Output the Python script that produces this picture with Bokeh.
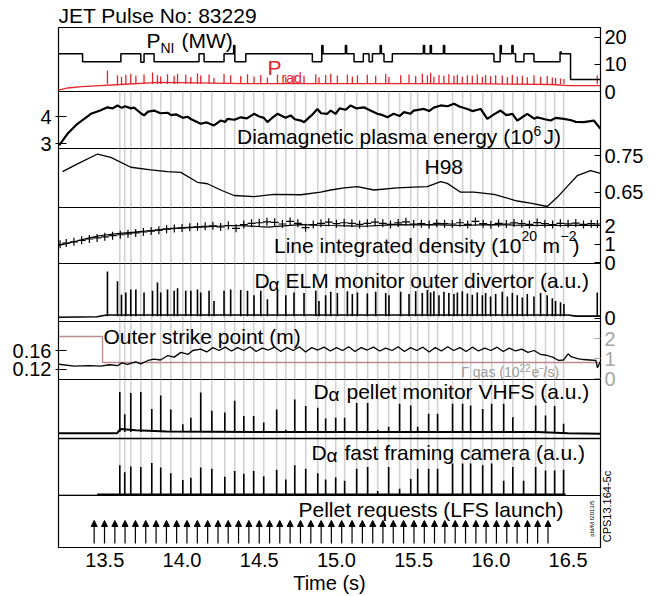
from math import pi
from bokeh.plotting import figure
from bokeh.models import (Range1d, LinearAxis, FixedTicker, Label, Arrow, NormalHead,
                          ColumnDataSource, PrintfTickFormatter, Span)
from bokeh.layouts import column
from bokeh.embed import file_html
from bokeh.resources import INLINE

# ---------------- data ----------------
# NBI power (MW), step trace
PNI_T = [13.200, 13.356, 13.604, 13.733, 13.754, 13.819, 14.110, 14.143, 14.272, 14.334,
         14.342, 14.413, 14.844, 14.905, 14.913, 15.058, 15.066, 15.114, 15.174, 15.211,
         15.233, 15.283, 15.291, 15.308, 15.362, 15.563, 15.571, 15.607, 15.615, 15.693,
         15.701, 16.020, 16.060, 16.068, 16.136, 16.144, 16.160, 16.214, 16.279, 16.448,
         16.456, 16.516, 16.710]
PNI_V = [14.0, 11.0, 14.0, 10.8, 14.0, 11.0, 14.0, 11.0, 14.0, 17.0,
         11.0, 14.0, 11.0, 17.0, 14.0, 17.0, 14.0, 11.0, 14.0, 11.0,
         14.0, 17.0, 14.0, 11.0, 14.0, 17.0, 14.0, 17.0, 14.0, 17.0,
         14.0, 11.0, 17.0, 14.0, 17.0, 14.0, 11.0, 14.0, 11.0, 14.6,
         14.0, 4.4, 4.4]
# radiated power baseline (MW)
PRAD_T = [13.20, 13.26, 13.35, 13.47, 13.60, 13.85, 14.10, 14.40, 15.00, 15.50, 16.00, 16.40, 16.50, 16.71]
PRAD_V = [0.5, 1.3, 1.8, 2.2, 2.6, 3.4, 3.2, 2.9, 2.9, 2.9, 2.8, 2.6, 2.2, 2.2]

# ELM times (s), D-alpha ELM heights (a.u.) and P_rad spike peaks (MW)
ELM_T = [13.517, 13.582, 13.608, 13.636, 13.668, 13.701, 13.754, 13.809, 13.841, 13.862,
         13.906, 13.949, 13.971, 14.024, 14.057, 14.100, 14.121, 14.175, 14.207, 14.272,
         14.315, 14.380, 14.424, 14.466, 14.510, 14.553, 14.618, 14.672, 14.725, 14.790,
         14.866, 14.887, 14.930, 14.963, 15.006, 15.071, 15.103, 15.136, 15.200, 15.254,
         15.319, 15.340, 15.416, 15.470, 15.513, 15.556, 15.589, 15.610, 15.631, 15.664,
         15.696, 15.728, 15.761, 15.783, 15.815, 15.848, 15.880, 15.912, 15.945, 15.966,
         15.998, 16.031, 16.074, 16.107, 16.139, 16.171, 16.204, 16.236, 16.279, 16.322,
         16.365, 16.398, 16.419, 16.451, 16.473, 16.689]
ELM_H = [0.81, 0.64, 0.41, 0.45, 0.50, 0.50, 0.45, 0.48, 0.62, 0.45,
         0.50, 0.48, 0.52, 0.48, 0.48, 0.50, 0.45, 0.48, 0.30, 0.48,
         0.50, 0.49, 0.48, 0.40, 0.48, 0.33, 0.48, 0.40, 0.45, 0.44,
         0.48, 0.30, 0.40, 0.46, 0.44, 0.47, 0.42, 0.45, 0.43, 0.46,
         0.44, 0.40, 0.46, 0.42, 0.47, 0.44, 0.49, 0.45, 0.47, 0.40,
         0.46, 0.44, 0.42, 0.45, 0.47, 0.43, 0.41, 0.45, 0.40, 0.44,
         0.38, 0.42, 0.46, 0.38, 0.44, 0.40, 0.36, 0.42, 0.38, 0.44,
         0.40, 0.35, 0.30, 0.28, 0.25, 0.45]
PRAD_PEAK = [7.8, 6.0, 5.5, 6.2, 6.5, 5.8, 6.3, 7.0, 6.0, 5.6,
             6.4, 5.8, 6.6, 6.2, 5.4, 6.8, 5.9, 6.3, 5.0, 6.5,
             6.0, 5.7, 6.4, 5.6, 6.1, 5.2, 6.3, 5.5, 6.0, 5.8,
             6.4, 5.3, 6.1, 6.6, 5.9, 6.3, 5.6, 6.0, 6.2, 5.8,
             6.5, 5.4, 6.0, 6.3, 5.7, 6.6, 6.0, 6.9, 5.5, 6.1,
             5.8, 6.4, 5.9, 6.2, 5.6, 6.0, 5.8, 6.3, 5.5, 6.1,
             5.7, 6.0, 5.9, 5.4, 6.2, 5.6, 5.8, 5.3, 6.0, 5.5,
             5.7, 5.2, 5.0, 4.8, 4.6, 5.9]
ELM_BASE_T = [13.20, 13.45, 13.51, 16.50, 16.55, 16.71]
ELM_BASE_V = [0.02, 0.03, 0.06, 0.06, 0.04, 0.04]

# diamagnetic energy (MJ)
W_T = [13.204, 13.258, 13.323, 13.41, 13.47, 13.517, 13.55, 13.582, 13.61, 13.63,
       13.67, 13.69, 13.733, 13.754, 13.78, 13.819, 13.86, 13.906, 13.93, 13.96,
       14.005, 14.035, 14.06, 14.121, 14.16, 14.207, 14.25, 14.28, 14.294, 14.34,
       14.380, 14.42, 14.466, 14.50, 14.53, 14.553, 14.59, 14.618, 14.67, 14.704,
       14.73, 14.77, 14.790, 14.84, 14.877, 14.90, 14.941, 14.963, 14.995, 15.02,
       15.06, 15.092, 15.13, 15.178, 15.22, 15.265, 15.30, 15.33, 15.37, 15.41,
       15.437, 15.48, 15.50, 15.567, 15.60, 15.63, 15.675, 15.72, 15.761, 15.80,
       15.848, 15.88, 15.934, 15.977, 16.02, 16.063, 16.10, 16.14, 16.171, 16.21,
       16.236, 16.28, 16.301, 16.35, 16.387, 16.42, 16.473, 16.52, 16.55, 16.602,
       16.667, 16.71]
W_V = [2.93, 3.36, 3.73, 4.10, 4.22, 4.34, 4.30, 4.41, 4.32, 4.38,
       4.30, 4.33, 4.12, 4.04, 4.18, 4.22, 4.12, 4.14, 4.05, 4.08,
       3.95, 3.99, 3.90, 3.73, 3.78, 3.67, 3.85, 3.80, 3.91, 3.88,
       3.97, 3.93, 4.10, 4.00, 3.95, 3.79, 3.98, 4.10, 3.95, 4.04,
       3.90, 3.85, 3.79, 4.05, 4.28, 4.12, 4.10, 4.22, 4.10, 4.30,
       4.25, 4.41, 4.30, 4.34, 4.22, 4.10, 4.05, 3.97, 4.10, 4.02,
       4.16, 4.10, 4.22, 4.28, 4.20, 4.33, 4.41, 4.38, 4.47, 4.36,
       4.28, 4.20, 4.28, 3.91, 4.08, 4.22, 4.05, 4.10, 3.85, 4.00,
       4.10, 3.92, 3.97, 3.90, 3.85, 3.95, 3.91, 3.86, 3.80, 3.79,
       3.85, 3.54]

# H98
H_T = [13.226, 13.323, 13.453, 13.539, 13.668, 13.798, 13.906, 13.992, 14.100, 14.165,
       14.25, 14.337, 14.466, 14.596, 14.769, 14.898, 14.963, 15.05, 15.136, 15.243,
       15.394, 15.50, 15.588, 15.675, 15.718, 15.804, 15.890, 16.020, 16.171, 16.257,
       16.365, 16.430, 16.50, 16.559, 16.646, 16.71]
H_V = [0.706, 0.727, 0.754, 0.745, 0.718, 0.711, 0.706, 0.704, 0.677, 0.673,
       0.656, 0.641, 0.638, 0.644, 0.643, 0.650, 0.656, 0.662, 0.665, 0.656,
       0.662, 0.664, 0.665, 0.679, 0.674, 0.650, 0.650, 0.644, 0.626, 0.620,
       0.611, 0.636, 0.668, 0.695, 0.709, 0.701]

# line integrated density (1e20 m^-2): line and crosses
D_T = [13.204, 13.30, 13.40, 13.474, 13.58, 13.69, 13.80, 13.906, 14.01, 14.121,
       14.23, 14.337, 14.45, 14.553, 14.66, 14.769, 14.87, 14.963, 15.07, 15.178,
       15.29, 15.394, 15.50, 15.61, 15.72, 15.825, 15.93, 16.041, 16.15, 16.257,
       16.36, 16.473, 16.59, 16.71]
D_V = [0.92, 1.12, 1.33, 1.46, 1.56, 1.64, 1.73, 1.82, 1.87, 1.91,
       1.96, 2.00, 1.97, 1.91, 1.98, 2.05, 2.02, 2.00, 1.98, 1.96,
       2.01, 2.05, 2.03, 2.05, 2.02, 2.00, 2.03, 2.05, 2.02, 2.00,
       2.01, 2.00, 2.02, 2.00]
DX_T = [13.21, 13.25, 13.30, 13.35, 13.40, 13.45, 13.50, 13.55, 13.60, 13.65,
        13.70, 13.75, 13.80, 13.85, 13.90, 13.95, 14.00, 14.05, 14.10, 14.15,
        14.20, 14.25, 14.30, 14.35, 14.40, 14.45, 14.50, 14.55, 14.60, 14.65,
        14.70, 14.75, 14.80, 14.85, 14.90, 14.95, 15.00, 15.05, 15.10, 15.15,
        15.20, 15.25, 15.30, 15.35, 15.40, 15.45, 15.50, 15.55, 15.60, 15.65,
        15.70, 15.75, 15.80, 15.85, 15.90, 15.95, 16.00, 16.05, 16.10, 16.15,
        16.20, 16.25, 16.30, 16.35, 16.40, 16.45, 16.50, 16.55, 16.60, 16.65,
        16.69]
DX_V = [0.98, 1.05, 1.12, 1.20, 1.27, 1.33, 1.39, 1.45, 1.50, 1.55,
        1.60, 1.65, 1.70, 1.75, 1.80, 1.84, 1.87, 1.90, 1.93, 1.96,
        1.98, 1.92, 2.00, 1.85, 2.05, 2.12, 2.15, 2.20, 2.17, 2.08,
        2.22, 2.12, 1.88, 2.05, 2.12, 2.18, 2.10, 2.15, 2.12, 2.06,
        2.12, 2.18, 2.12, 2.06, 2.14, 2.20, 2.08, 2.10, 2.05, 2.12,
        2.10, 2.08, 2.15, 2.06, 2.22, 2.10, 2.04, 2.12, 2.08, 2.14,
        2.10, 2.06, 2.16, 2.10, 2.05, 2.12, 2.09, 2.13, 2.06, 2.10,
        2.08]

# outer strike point (m)
S_T = [13.204, 13.30, 13.40, 13.474, 13.53, 13.582, 13.61, 13.647, 13.70, 13.733,
       13.78, 13.819, 13.86, 13.906, 13.95, 13.992, 14.04, 14.07, 14.121, 14.16,
       14.20, 14.24, 14.28, 14.32, 14.36, 14.40, 14.44, 14.48, 14.52, 14.56,
       14.60, 14.64, 14.68, 14.72, 14.76, 14.80, 14.84, 14.88, 14.92, 14.96,
       15.00, 15.04, 15.08, 15.12, 15.16, 15.20, 15.24, 15.28, 15.32, 15.36,
       15.40, 15.44, 15.48, 15.52, 15.56, 15.60, 15.64, 15.68, 15.72, 15.76,
       15.80, 15.84, 15.88, 15.92, 15.96, 16.00, 16.04, 16.08, 16.12, 16.16,
       16.20, 16.24, 16.28, 16.32, 16.36, 16.40, 16.44, 16.47, 16.50, 16.52,
       16.56, 16.60, 16.64, 16.68, 16.69, 16.71]
S_V = [0.131, 0.127, 0.128, 0.127, 0.130, 0.128, 0.134, 0.131, 0.136, 0.132,
       0.139, 0.142, 0.140, 0.149, 0.146, 0.156, 0.152, 0.160, 0.163, 0.157,
       0.166, 0.160, 0.167, 0.159, 0.166, 0.160, 0.168, 0.158, 0.165, 0.161,
       0.167, 0.158, 0.166, 0.160, 0.168, 0.157, 0.166, 0.161, 0.167, 0.159,
       0.166, 0.160, 0.168, 0.158, 0.166, 0.161, 0.167, 0.159, 0.165, 0.160,
       0.168, 0.158, 0.166, 0.160, 0.167, 0.157, 0.166, 0.159, 0.168, 0.160,
       0.166, 0.158, 0.167, 0.159, 0.165, 0.160, 0.167, 0.158, 0.165, 0.159,
       0.163, 0.156, 0.160, 0.152, 0.150, 0.146, 0.139, 0.140, 0.153, 0.147,
       0.143, 0.141, 0.140, 0.139, 0.124, 0.137]
# gas fuelling rate (1e22 e/s), step
GAS_T = [13.20, 13.485, 16.71]
GAS_V = [2.1, 0.8, 0.8]

# pellet-triggered event times (grey lines) and their signal heights
GRAY_T = [13.597, 13.629, 13.668, 13.733, 13.804, 13.862, 13.927, 14.005, 14.057, 14.121,
          14.193, 14.277, 14.341, 14.400, 14.464, 14.529, 14.613, 14.672, 14.730, 14.801,
          14.879, 14.930, 14.995, 15.053, 15.131, 15.202, 15.267, 15.338, 15.409, 15.481,
          15.526, 15.597, 15.655, 15.752, 15.817, 15.869, 15.947, 16.005, 16.083, 16.142,
          16.212, 16.290, 16.354, 16.413, 16.471]
VHFS_H = [0.79, 0.41, 0.77, 0.79, 0.50, 0.73, 0.49, 0.24, 0.35, 0.78,
          0.47, 0.44, 0.64, 0.38, 0.38, 0.27, 0.49, 0.15, 0.66, 0.55,
          0.52, 0.34, 0.35, 0.35, 0.60, 0.60, 0.15, 0.20, 0.59, 0.56,
          0.20, 0.42, 0.42, 0.59, 0.59, 0.56, 0.50, 0.59, 0.59, 0.36,
          0.12, 0.56, 0.39, 0.55, 0.25]
CAM_H = [0.53, 0.41, 0.51, 0.50, 0.57, 0.49, 0.39, 0.27, 0.31, 0.49,
         0.47, 0.33, 0.43, 0.38, 0.43, 0.34, 0.45, 0.28, 0.53, 0.47,
         0.39, 0.28, 0.32, 0.26, 0.47, 0.50, 0.08, 0.50, 0.12, 0.29,
         0.47, 0.47, 0.47, 0.56, 0.56, 0.56, 0.53, 0.56, 0.26, 0.50,
         0.26, 0.50, 0.44, 0.44, 0.45]
VHFS_BASE_T = [13.20, 13.58, 13.60, 13.70, 13.90, 14.50, 15.50, 16.30, 16.50, 16.71]
VHFS_BASE_V = [0.09, 0.09, 0.16, 0.14, 0.12, 0.11, 0.11, 0.11, 0.09, 0.08]
CAM_BASE_T = [13.45, 16.484]
CAM_BASE_V = [0.02, 0.02]
CAM_PRE_T = [13.20, 13.45]
CAM_PRE_V = [0.01, 0.01]

# pellet requests (LFS launch)
REQ_T = [13.431, 13.498, 13.565, 13.631, 13.698, 13.765, 13.832, 13.899, 13.965, 14.032,
         14.099, 14.166, 14.233, 14.299, 14.366, 14.433, 14.500, 14.567, 14.633, 14.700,
         14.767, 14.834, 14.901, 14.967, 15.034, 15.101, 15.168, 15.235, 15.301, 15.368,
         15.435, 15.502, 15.569, 15.635, 15.702, 15.769, 15.836, 15.903, 15.969, 16.036,
         16.103, 16.170, 16.237, 16.303, 16.370]

X_TICKS = [13.5, 14.0, 14.5, 15.0, 15.5, 16.0, 16.5]

# ---------------- layout helpers ----------------
X0, X1 = 13.2, 16.71
FL, FR = 58, 600          # frame left/right in reference pixels
FONT = "Liberation Sans"
RED = "#e4262c"
GREY = "#d2d2d2"

xr = Range1d(X0, X1)


def tx(px):
    return X0 + (px - FL) * (X1 - X0) / (FR - FL)


def yv(info, py):
    top, bot, y0, y1 = info
    return y1 - (py - top) / (bot - top) * (y1 - y0)


def mk(info, bt, bb, mt, xaxis=False):
    top, bot, y0, y1 = info
    p = figure(frame_width=FR - FL, frame_height=bot - top, x_range=xr,
               y_range=Range1d(y0, y1),
               x_axis_location="below" if xaxis else None, y_axis_location=None,
               toolbar_location=None, output_backend="svg",
               min_border_left=58, min_border_right=56,
               min_border_top=bt, min_border_bottom=bb,
               border_fill_color=None, background_fill_color=None,
               outline_line_color="black", outline_line_width=1.2,
               margin=(mt, 0, 0, 0))
    p.xgrid.visible = False
    p.ygrid.visible = False
    return p


def lab(p, info, px, py, text, size=21, color="black", align="left", angle=0.0, font=FONT):
    p.add_layout(Label(x=tx(px), y=yv(info, py), text=text, text_font=font,
                       text_font_size=f"{size}px", text_color=color, text_align=align,
                       text_baseline="middle", angle=angle))


def yaxis(p, side, ticks, color="black", rn="default", tin=6, tout=0):
    ax = LinearAxis(y_range_name=rn, ticker=FixedTicker(ticks=ticks, minor_ticks=[]),
                    axis_line_color=None, major_tick_in=tin, major_tick_out=tout,
                    major_tick_line_color=color, major_label_text_color=color,
                    major_label_text_font=FONT, major_label_text_font_size="20px",
                    major_label_standoff=4, minor_tick_line_color=None)
    p.add_layout(ax, side)


def greylines(p, info):
    p.segment(x0=GRAY_T, y0=info[2], x1=GRAY_T, y1=info[3], line_color=GREY, line_width=1.6)


# ---------------- panel 1: heating / radiation ----------------
I1 = (27, 91, 0.0, 23.7)
p1 = mk(I1, 27, 12, 0)
p1.title.text = "JET Pulse No: 83229"
p1.title.text_font = FONT
p1.title.text_font_size = "21px"
p1.title.text_font_style = "normal"
p1.title.text_color = "black"
p1.title.align = "left"
p1.title.standoff = 2
p1.title.offset = 0
p1.line(PRAD_T, PRAD_V, line_color=RED, line_width=1.3)
p1.segment(x0=ELM_T, y0=2.8, x1=ELM_T, y1=PRAD_PEAK, line_color=RED, line_width=1.3)
p1.step(PNI_T, PNI_V, mode="after", line_color="black", line_width=1.5)
yaxis(p1, "right", [0, 10, 20])
lab(p1, I1, 146, 40, "P")
lab(p1, I1, 160, 47, "NI", size=14)
lab(p1, I1, 181, 40, "(MW)")
lab(p1, I1, 267, 67, "P", color=RED)
lab(p1, I1, 281, 77, "rad", size=14, color=RED)

# ---------------- panel 2: diamagnetic energy ----------------
I2 = (91, 148, 2.815, 4.926)
p2 = mk(I2, 12, 12, -24)
greylines(p2, I2)
p2.line(W_T, W_V, line_color="black", line_width=2.2)
yaxis(p2, "left", [3, 4], tin=8, tout=3)
lab(p2, I2, 533, 136, "Diamagnetic plasma energy (10", align="right")
lab(p2, I2, 533, 130, "6", size=14)
lab(p2, I2, 543, 136, "J)")

# ---------------- panel 3: H98 ----------------
I3 = (148, 207, 0.6083, 0.7691)
p3 = mk(I3, 12, 12, -24)
greylines(p3, I3)
p3.line(H_T, H_V, line_color="black", line_width=1.3)
yaxis(p3, "right", [0.65, 0.75])
lab(p3, I3, 424, 166, "H98")

# ---------------- panel 4: density ----------------
I4 = (207, 263, -0.054, 2.973)
p4 = mk(I4, 12, 12, -24)
greylines(p4, I4)
p4.line(D_T, D_V, line_color="black", line_width=1.2)
p4.scatter(DX_T, DX_V, marker="cross", size=8, line_color="black", line_width=1.2)
yaxis(p4, "right", [0, 1, 2])
lab(p4, I4, 521, 245, "Line integrated density (10", align="right")
lab(p4, I4, 521, 235, "20", size=14)
lab(p4, I4, 542, 245, "m")
lab(p4, I4, 560, 235, "\u22122", size=14)
lab(p4, I4, 572, 245, ")")

# ---------------- panel 5: ELM monitor ----------------
I5 = (263, 321, -0.052, 0.948)
p5 = mk(I5, 12, 12, -24)
greylines(p5, I5)
p5.line(ELM_BASE_T, ELM_BASE_V, line_color="black", line_width=1.6)
p5.segment(x0=ELM_T, y0=0.04, x1=ELM_T, y1=ELM_H, line_color="black", line_width=1.6)
yaxis(p5, "right", [0])
lab(p5, I5, 254, 280, "D")
lab(p5, I5, 268, 284, "\u03b1", size=19)
lab(p5, I5, 285, 280, "ELM monitor outer divertor (a.u.)")

# ---------------- panel 6: strike point + gas ----------------
I6 = (321, 379, 0.0989, 0.2211)
p6 = mk(I6, 12, 12, -24)
p6.extra_y_ranges = {"gas": Range1d(-0.05, 2.85)}
greylines(p6, I6)
p6.step(GAS_T, GAS_V, mode="after", y_range_name="gas", line_color="#b98d8d", line_width=1.3)
p6.line(S_T, S_V, line_color="black", line_width=1.3)
yaxis(p6, "left", [0.12, 0.16], tin=8, tout=3)
yaxis(p6, "right", [0, 1, 2], color="#a6a6a6", rn="gas")
lab(p6, I6, 103, 336, "Outer strike point (m)")
GC = "#9c9c9c"
lab(p6, I6, 519, 371, "\u0393 gas (10", size=14, color=GC, align="right")
lab(p6, I6, 519, 367, "22", size=10, color=GC)
lab(p6, I6, 531, 371, "e", size=14, color=GC)
lab(p6, I6, 538, 367, "\u2212", size=10, color=GC)
lab(p6, I6, 543, 371, "/s)", size=14, color=GC)

# ---------------- panels 7-9: pellet monitor, camera, requests ----------------
I7 = (379, 547, -1.847, 1.0)
p7 = mk(I7, 12, 10, -24, xaxis=True)
p7.extra_y_ranges = {"p8": Range1d(-0.912, 2.035), "p9": Range1d(0.0, 3.231)}
p7.segment(x0=GRAY_T, y0=0.0, x1=GRAY_T, y1=2.035, y_range_name="p8",
           line_color=GREY, line_width=1.6)
p7.add_layout(Span(location=0.0, dimension="width", line_color="black", line_width=1.4))
p7.add_layout(Span(location=yv(I7, 495), dimension="width", line_color="black", line_width=1.2))
# pellet monitor VHFS
p7.line(VHFS_BASE_T, VHFS_BASE_V, line_color="black", line_width=2.0)
p7.segment(x0=GRAY_T, y0=0.11, x1=GRAY_T, y1=VHFS_H, line_color="black", line_width=1.6)
# fast camera
p7.line(CAM_PRE_T, CAM_PRE_V, y_range_name="p8", line_color="#8a8a8a", line_width=1.3)
p7.line(CAM_BASE_T, CAM_BASE_V, y_range_name="p8", line_color="black", line_width=1.8)
p7.segment(x0=GRAY_T, y0=0.02, x1=GRAY_T, y1=CAM_H, y_range_name="p8",
           line_color="black", line_width=1.6)
# pellet requests
p7.add_layout(Arrow(x_start="t", x_end="t", y_start=0.077, y_end=0.52,
                    source=ColumnDataSource(dict(t=REQ_T)), y_range_name="p9",
                    line_color="black", line_width=1.2,
                    end=NormalHead(size=6, fill_color="black", line_color="black")))
lab(p7, I7, 313, 391, "D")
lab(p7, I7, 328, 394, "\u03b1", size=19)
lab(p7, I7, 346, 391, "pellet monitor VHFS (a.u.)")
lab(p7, I7, 311, 452, "D")
lab(p7, I7, 326, 455, "\u03b1", size=19)
lab(p7, I7, 344, 452, "fast framing camera (a.u.)")
lab(p7, I7, 298, 509, "Pellet requests (LFS launch)")
lab(p7, I7, 591, 518, "pbl/M f2013/5", size=6, align="center", angle=pi / 2)
# figure code on the right edge, written as a single rotated axis label
cps = LinearAxis(y_range_name="p9", ticker=FixedTicker(ticks=[0.1], minor_ticks=[]),
                 major_label_overrides={0.1: "CPS13.164-5c"},
                 major_label_orientation=pi / 2, major_tick_in=0, major_tick_out=0,
                 axis_line_color=None, major_label_text_font=FONT,
                 major_label_text_color="black",
                 major_label_text_font_size="11px", major_label_standoff=7)
p7.add_layout(cps, "right")

xa = p7.xaxis[0]
xa.ticker = FixedTicker(ticks=X_TICKS, minor_ticks=[])
xa.formatter = PrintfTickFormatter(format="%.1f")
xa.axis_label = "Time (s)"
xa.axis_label_text_font = FONT
xa.axis_label_text_font_size = "20px"
xa.axis_label_text_font_style = "normal"
xa.axis_label_text_color = "black"
xa.axis_label_standoff = 2
xa.major_label_text_font = FONT
xa.major_label_text_color = "black"
xa.major_label_text_font_size = "20px"
xa.major_label_standoff = 5
xa.major_tick_in = 0
xa.major_tick_out = 0
xa.axis_line_color = None

layout = column(p1, p2, p3, p4, p5, p6, p7, spacing=0)
open("out.html", "w").write(file_html(layout, INLINE))
